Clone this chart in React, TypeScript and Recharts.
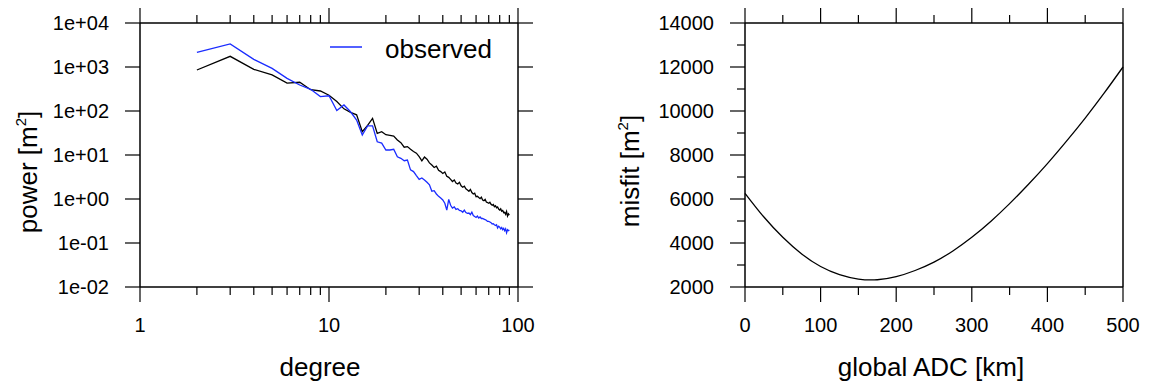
import { LineChart, Line, XAxis, YAxis } from 'recharts';

const FONT = '"Liberation Sans", Arial, Helvetica, sans-serif';

// spherical harmonic degree
const degrees = [
  2, 3, 4, 5, 6, 7, 8, 9, 10, 11, 12, 13, 14, 15, 16, 17, 18, 19, 20, 21,
  22, 23, 24, 25, 26, 27, 28, 29, 30, 31, 32, 33, 34, 35, 36, 37, 38, 39, 40, 41,
  42, 43, 44, 45, 46, 47, 48, 49, 50, 51, 52, 53, 54, 55, 56, 57, 58, 59, 60, 61,
  62, 63, 64, 65, 66, 67, 68, 69, 70, 71, 72, 73, 74, 75, 76, 77, 78, 79, 80, 81,
  82, 83, 84, 85, 86, 87, 88, 89, 90,
];

// black curve (model)
const modelPower = [
  855, 1750, 885, 660, 430, 450, 305, 285, 228, 165, 112, 93, 82, 34, 47, 68, 31, 34, 29, 28,
  27, 22, 19, 15, 15.5, 13.5, 12, 11, 9.2, 7.4, 9.0, 8.0, 6.6, 5.9, 5.2, 5.6, 4.5, 4.2, 3.8, 4.1,
  3.3, 3.1, 2.8, 2.5, 2.7, 2.3, 2.2, 2.4, 2.0, 1.85, 1.95, 1.7, 1.6, 1.5, 1.65, 1.4, 1.3, 1.35, 1.13, 1.15,
  1.08, 1.02, 1.1, 0.95, 0.92, 0.98, 0.85, 0.83, 0.8, 0.84, 0.76, 0.72, 0.75, 0.67, 0.7, 0.63, 0.66, 0.59, 0.56, 0.6,
  0.53, 0.55, 0.49, 0.5, 0.45, 0.52, 0.41, 0.46, 0.43,
];

// blue curve (observed)
const observedPower = [
  2160, 3350, 1490, 930, 553, 390, 311, 212, 222, 103, 137, 96, 62, 28.5, 46, 46, 20, 18.6, 13, 13,
  13.5, 9.1, 8.4, 7.4, 7.7, 4.6, 4.2, 3.4, 2.8, 3.0, 2.7, 2.4, 2.1, 1.5, 1.55, 1.3, 1.15, 1.05, 0.95, 0.8,
  0.56, 0.98, 0.72, 0.62, 0.66, 0.58, 0.6, 0.55, 0.54, 0.5, 0.56, 0.49, 0.47, 0.48, 0.44, 0.5, 0.42, 0.4, 0.38, 0.41,
  0.37, 0.39, 0.36, 0.36, 0.35, 0.34, 0.33, 0.31, 0.31, 0.3, 0.29, 0.27, 0.275, 0.26, 0.25, 0.26, 0.22, 0.24, 0.23, 0.21,
  0.225, 0.2, 0.215, 0.19, 0.21, 0.17, 0.2, 0.19, 0.197,
];

const degreeTicks = [1, 2, 3, 4, 5, 6, 7, 8, 9, 10, 20, 30, 40, 50, 60, 70, 80, 90, 100];
const degreeMajor = [1, 10, 100];
const powerTicks = [0.01, 0.1, 1, 10, 100, 1000, 10000];

// misfit vs global ADC
const adcKm = [0, 25, 50, 75, 100, 125, 150, 175, 200, 225, 250, 275, 300, 325, 350, 375, 400, 425, 450, 475, 500];
const misfit = [6260, 5180, 4260, 3500, 2930, 2560, 2360, 2330, 2470, 2750, 3130, 3640, 4260, 4980, 5790, 6670, 7610, 8620, 9680, 10810, 12000];

const adcTicks = [0, 50, 100, 150, 200, 250, 300, 350, 400, 450, 500];
const adcMajor = [0, 100, 200, 300, 400, 500];
const misfitTicks = [2000, 3000, 4000, 5000, 6000, 7000, 8000, 9000, 10000, 11000, 12000, 13000, 14000];
const misfitMajor = [2000, 4000, 6000, 8000, 10000, 12000, 14000];

const spectrum = degrees.map((d, i) => ({ d, model: modelPower[i], observed: observedPower[i] }));
const misfitData = adcKm.map((km, i) => ({ km, misfit: misfit[i] }));

const expLabel = (v: number) => {
  const e = Math.round(Math.log10(v));
  return `1e${e < 0 ? '-' : '+'}${String(Math.abs(e)).padStart(2, '0')}`;
};

const MAJOR = 15;
const MINOR = 8;
const TICK_FONT = 20;

const bottomTick = (majors: number[], fmt: (v: number) => string) => (props: any) => {
  const { x, y, payload } = props;
  const major = majors.includes(payload.value);
  return (
    <g>
      <line x1={x} y1={y} x2={x} y2={y + (major ? MAJOR : MINOR)} stroke="#000" strokeWidth={1.2} />
      {major && (
        <text x={x} y={y + 45} textAnchor="middle" fontSize={TICK_FONT} fontFamily={FONT} fill="#000">
          {fmt(payload.value)}
        </text>
      )}
    </g>
  );
};

const topTick = (majors: number[]) => (props: any) => {
  const { x, y, payload } = props;
  const major = majors.includes(payload.value);
  return <line x1={x} y1={y} x2={x} y2={y - (major ? MAJOR : MINOR)} stroke="#000" strokeWidth={1.2} />;
};

const leftTick = (majors: number[], fmt: (v: number) => string) => (props: any) => {
  const { x, y, payload } = props;
  const major = majors.includes(payload.value);
  return (
    <g>
      <line x1={x} y1={y} x2={x - (major ? MAJOR : MINOR)} y2={y} stroke="#000" strokeWidth={1.2} />
      {major && (
        <text x={x - 31} y={y + 7} textAnchor="end" fontSize={TICK_FONT} fontFamily={FONT} fill="#000">
          {fmt(payload.value)}
        </text>
      )}
    </g>
  );
};

const rightTick = (majors: number[]) => (props: any) => {
  const { x, y, payload } = props;
  const major = majors.includes(payload.value);
  return <line x1={x} y1={y} x2={x + (major ? MAJOR : MINOR)} y2={y} stroke="#000" strokeWidth={1.2} />;
};

const axisLine = { stroke: '#000', strokeWidth: 1.5 };

function SpectrumChart() {
  return (
    <LineChart width={560} height={387} data={spectrum} margin={{ top: 3, left: 80, right: 22, bottom: 60 }}>
      <XAxis xAxisId="b" dataKey="d" type="number" scale="log" domain={[1, 100]} ticks={degreeTicks}
        interval={0} tickSize={0} tickMargin={0} height={40} axisLine={axisLine}
        tick={bottomTick(degreeMajor, (v) => String(v))} allowDataOverflow />
      <XAxis xAxisId="t" orientation="top" dataKey="d" type="number" scale="log" domain={[1, 100]}
        ticks={degreeTicks} interval={0} tickSize={0} tickMargin={0} height={20} axisLine={axisLine}
        tick={topTick(degreeMajor)} allowDataOverflow />
      <YAxis yAxisId="l" type="number" scale="log" domain={[0.01, 10000]} ticks={powerTicks} interval={0}
        tickSize={0} tickMargin={0} width={60} axisLine={axisLine}
        tick={leftTick(powerTicks, expLabel)} allowDataOverflow />
      <YAxis yAxisId="r" orientation="right" type="number" scale="log" domain={[0.01, 10000]}
        ticks={powerTicks} interval={0} tickSize={0} tickMargin={0} width={20} axisLine={axisLine}
        tick={rightTick(powerTicks)} allowDataOverflow />
      <Line xAxisId="b" yAxisId="l" type="linear" dataKey="model" stroke="#000" strokeWidth={1.3}
        dot={false} isAnimationActive={false} />
      <Line xAxisId="b" yAxisId="l" type="linear" dataKey="observed" stroke="#1a2cff" strokeWidth={1.3}
        dot={false} isAnimationActive={false} />
    </LineChart>
  );
}

function MisfitChart() {
  return (
    <LineChart width={549} height={387} data={misfitData} margin={{ top: 3, left: 85, right: 6, bottom: 60 }}>
      <XAxis xAxisId="b" dataKey="km" type="number" domain={[0, 500]} ticks={adcTicks} interval={0}
        tickSize={0} tickMargin={0} height={40} axisLine={axisLine}
        tick={bottomTick(adcMajor, (v) => String(v))} />
      <XAxis xAxisId="t" orientation="top" dataKey="km" type="number" domain={[0, 500]} ticks={adcTicks}
        interval={0} tickSize={0} tickMargin={0} height={20} axisLine={axisLine} tick={topTick(adcMajor)} />
      <YAxis yAxisId="l" type="number" domain={[2000, 14000]} ticks={misfitTicks} interval={0}
        tickSize={0} tickMargin={0} width={60} axisLine={axisLine}
        tick={leftTick(misfitMajor, (v) => String(v))} />
      <YAxis yAxisId="r" orientation="right" type="number" domain={[2000, 14000]} ticks={misfitTicks}
        interval={0} tickSize={0} tickMargin={0} width={20} axisLine={axisLine} tick={rightTick(misfitMajor)} />
      <Line xAxisId="b" yAxisId="l" type="natural" dataKey="misfit" stroke="#000" strokeWidth={1.3}
        dot={false} isAnimationActive={false} />
    </LineChart>
  );
}

export default function App() {
  return (
    <div style={{ position: 'absolute', left: 0, top: 0, width: 1149, height: 387, background: '#fff', fontFamily: FONT }}>
      <div style={{ position: 'absolute', left: 0, top: 0 }}>
        <SpectrumChart />
      </div>
      <div style={{ position: 'absolute', left: 600, top: 0 }}>
        <MisfitChart />
      </div>
      <svg width={1149} height={387} style={{ position: 'absolute', left: 0, top: 0, pointerEvents: 'none' }}>
        <g fontFamily={FONT} fontSize={26} fill="#000">
          <line x1={330} y1={47} x2={362} y2={47} stroke="#1a2cff" strokeWidth={1.5} />
          <text x={385} y={58}>observed</text>
          <text x={320} y={376} textAnchor="middle">degree</text>
          <text x={931} y={376} textAnchor="middle">global ADC [km]</text>
          <text x={37} y={172} textAnchor="middle" transform="rotate(-90 37 172)">
            power [m<tspan fontSize={15} dy={-11}>2</tspan><tspan dy={11}>]</tspan>
          </text>
          <text x={639} y={171} textAnchor="middle" transform="rotate(-90 639 171)">
            misfit [m<tspan fontSize={15} dy={-11}>2</tspan><tspan dy={11}>]</tspan>
          </text>
        </g>
      </svg>
    </div>
  );
}
